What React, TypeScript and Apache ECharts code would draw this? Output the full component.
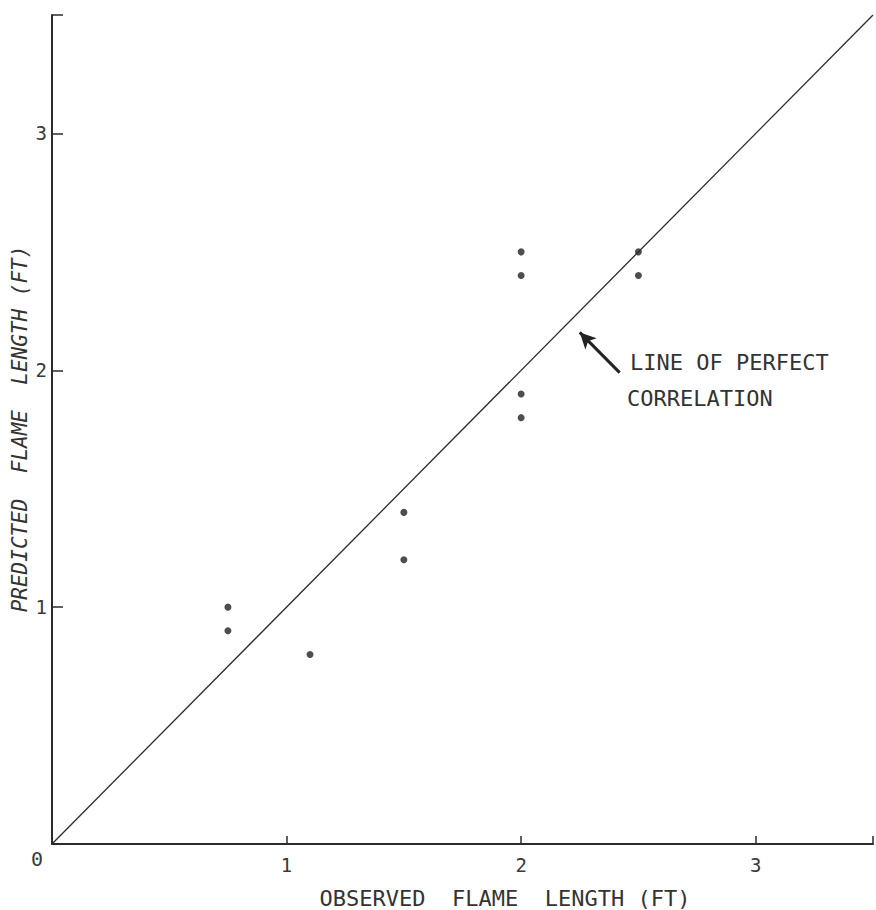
import React, { useEffect, useRef } from "react";
import * as echarts from "echarts";

const observed = [0.75, 0.75, 1.1, 1.5, 1.5, 2.0, 2.0, 2.0, 2.0, 2.5, 2.5];
const predicted = [1.0, 0.9, 0.8, 1.4, 1.2, 2.5, 2.4, 1.9, 1.8, 2.5, 2.4];
const axisMax = 3.5;
const perfectLine = [[0, 0], [axisMax, axisMax]];
const arrowTail = [2.42, 1.99];
const arrowTip = [2.25, 2.16];
const xTitle = "OBSERVED  FLAME  LENGTH (FT)";
const yTitle = "PREDICTED  FLAME  LENGTH (FT)";
const noteLines = ["LINE OF PERFECT", "CORRELATION"];

const FONT = "'DejaVu Sans Mono', 'Liberation Mono', monospace";
const INK = "#2b2b2b";

export default function App() {
  const ref = useRef<HTMLDivElement>(null);
  useEffect(() => {
    if (!ref.current) return;
    const chart = echarts.init(ref.current, undefined, { renderer: "svg" });
    const points = observed.map((x, i) => [x, predicted[i]]);
    chart.setOption({
      animation: false,
      backgroundColor: "#ffffff",
      grid: { left: 52, right: 0, top: 15, bottom: 66, containLabel: false },
      xAxis: {
        type: "value",
        min: 0,
        max: axisMax,
        interval: 1,
        axisLine: { show: true, onZero: false, lineStyle: { color: INK, width: 2 } },
        axisTick: { show: true, inside: true, length: 8, lineStyle: { color: INK, width: 1.5 } },
        splitLine: { show: false },
        axisLabel: {
          color: "#3a3a3a",
          fontFamily: FONT,
          fontSize: 19,
          margin: 11,
          formatter: (v: number) => (v === 0 || v > 3 ? "" : String(v)),
        },
      },
      yAxis: {
        type: "value",
        min: 0,
        max: axisMax,
        interval: 1,
        axisLine: { show: true, onZero: false, lineStyle: { color: INK, width: 2 } },
        axisTick: { show: true, inside: true, length: 11, lineStyle: { color: INK, width: 1.5 } },
        splitLine: { show: false },
        axisLabel: {
          color: "#3a3a3a",
          fontFamily: FONT,
          fontSize: 19,
          margin: 5,
          formatter: (v: number) => (v === 0 || v > 3 ? "" : String(v)),
        },
      },
      graphic: [
        {
          type: "text",
          x: 37,
          y: 859,
          style: {
            text: "0",
            fill: "#3a3a3a",
            font: `20px ${FONT}`,
            textAlign: "center",
            textVerticalAlign: "middle",
          },
        },
        {
          type: "text",
          x: 505,
          y: 898,
          style: {
            text: xTitle,
            fill: "#333",
            font: `22px ${FONT}`,
            textAlign: "center",
            textVerticalAlign: "middle",
          },
        },
        {
          type: "text",
          x: 20,
          y: 429,
          rotation: Math.PI / 2,
          style: {
            text: yTitle,
            fill: "#333",
            font: `italic 21px ${FONT}`,
            textAlign: "center",
            textVerticalAlign: "middle",
          },
        },
        {
          type: "text",
          x: 630,
          y: 362,
          style: {
            text: noteLines[0],
            fill: "#333",
            font: `22px ${FONT}`,
            textVerticalAlign: "middle",
          },
        },
        {
          type: "text",
          x: 627,
          y: 398,
          style: {
            text: noteLines[1],
            fill: "#333",
            font: `22px ${FONT}`,
            textVerticalAlign: "middle",
          },
        },
      ],
      series: [
        {
          type: "line",
          data: perfectLine,
          symbol: "none",
          silent: true,
          lineStyle: { color: INK, width: 1.3 },
          markLine: {
            silent: true,
            symbol: ["none", "arrow"],
            symbolSize: [12, 16],
            label: { show: false },
            lineStyle: { color: "#222", width: 3, type: "solid" },
            data: [[{ coord: arrowTail }, { coord: arrowTip }]],
          },
        },
        {
          type: "scatter",
          data: points,
          symbol: "circle",
          symbolSize: 7,
          itemStyle: { color: "#222" },
        },
      ],
    });
    return () => chart.dispose();
  }, []);
  return <div ref={ref} style={{ width: 876, height: 910, position: "absolute", left: 0, top: 0 }} />;
}
